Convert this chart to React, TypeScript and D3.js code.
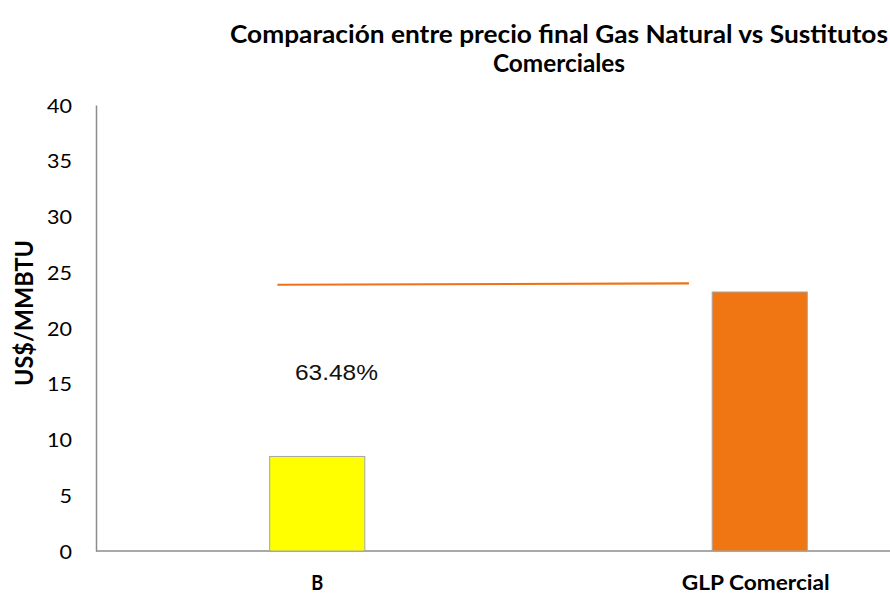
import React, { useEffect, useRef } from "react";
import * as d3 from "d3";

// Categories and bar values (US$/MMBTU)
const categories = ["B", "GLP Comercial"];
const prices = [8.48, 23.23];
const barColors = ["#FFFF00", "#F07513"];

// Reference line drawn across the plot (x in category index units)
const refLineX = [-0.09, 0.84];
const refLineY = [23.88, 24.0];

const yTicks = [0, 5, 10, 15, 20, 25, 30, 35, 40];
const titleLines = [
  "Comparación entre precio final Gas Natural vs Sustitutos",
  "Comerciales",
];
const yLabel = "US$/MMBTU";
const pctLabel = "63.48%";

const App: React.FC = () => {
  const svgRef = useRef<SVGSVGElement | null>(null);

  useEffect(() => {
    const width = 890;
    const height = 595;
    const margin = { top: 105, left: 96, bottom: 44 };
    const plotRight = 981; // plot area runs past the cropped edge

    const svg = d3
      .select(svgRef.current)
      .attr("width", width)
      .attr("height", height);
    svg.selectAll("*").remove();

    const xScale = d3
      .scaleBand<string>()
      .domain(categories)
      .range([margin.left, plotRight])
      .paddingInner(0.785)
      .paddingOuter(0.3925);

    const yScale = d3
      .scaleLinear()
      .domain([0, 40])
      .range([height - margin.bottom, margin.top]);

    // index scale for the reference line, centred on the bands
    const xIdx = d3
      .scaleLinear()
      .domain([0, 1])
      .range([
        xScale(categories[0])! + xScale.bandwidth() / 2,
        xScale(categories[1])! + xScale.bandwidth() / 2,
      ]);

    // Title
    const title = svg
      .append("g")
      .attr("font-family", "Lato, 'Open Sans', sans-serif")
      .attr("font-weight", "bold")
      .attr("font-size", 24)
      .attr("fill", "#000");
    title
      .append("text")
      .attr("x", 559)
      .attr("y", 43)
      .attr("text-anchor", "middle")
      .attr("textLength", 658)
      .attr("lengthAdjust", "spacingAndGlyphs")
      .text(titleLines[0]);
    title
      .append("text")
      .attr("x", 559)
      .attr("y", 72)
      .attr("text-anchor", "middle")
      .attr("textLength", 132)
      .attr("lengthAdjust", "spacingAndGlyphs")
      .text(titleLines[1]);

    // Y axis
    const yAxis = d3
      .axisLeft(yScale)
      .tickValues(yTicks)
      .tickSize(0)
      .tickPadding(24);
    const yAxisG = svg
      .append("g")
      .attr("transform", `translate(${margin.left},0)`)
      .call(yAxis);
    yAxisG.select(".domain").attr("stroke", "#8c8c8c").attr("stroke-width", 1.5);
    yAxisG
      .selectAll("text")
      .attr("font-family", "Lato, 'Open Sans', sans-serif")
      .attr("font-size", 20)
      .attr("fill", "#000")
      .attr("dy", "0.36em")
      .attr("textLength", (d: any) => String(d).length * 12.5)
      .attr("lengthAdjust", "spacingAndGlyphs");

    // X axis baseline
    svg
      .append("line")
      .attr("x1", margin.left)
      .attr("x2", plotRight)
      .attr("y1", yScale(0))
      .attr("y2", yScale(0))
      .attr("stroke", "#8c8c8c")
      .attr("stroke-width", 1.5);

    // Bars
    svg
      .append("g")
      .selectAll("rect")
      .data(categories)
      .join("rect")
      .attr("x", (d) => xScale(d)!)
      .attr("y", (_, i) => yScale(prices[i]))
      .attr("width", xScale.bandwidth())
      .attr("height", (_, i) => yScale(0) - yScale(prices[i]))
      .attr("fill", (_, i) => barColors[i])
      .attr("stroke", "#a6a6a6")
      .attr("stroke-width", 1);

    // Category labels
    svg
      .append("g")
      .selectAll("text")
      .data(categories)
      .join("text")
      .attr("x", (d) => xScale(d)! + xScale.bandwidth() / 2 - (d === "B" ? 0 : 4))
      .attr("y", 590)
      .attr("text-anchor", "middle")
      .attr("font-family", "Lato, 'Open Sans', sans-serif")
      .attr("font-weight", "bold")
      .attr("font-size", 21)
      .attr("textLength", (d) => (d === "B" ? 12 : 148))
      .attr("lengthAdjust", "spacingAndGlyphs")
      .text((d) => d);

    // Reference line
    const line = d3
      .line<number>()
      .x((_, i) => xIdx(refLineX[i]))
      .y((d) => yScale(d));
    svg
      .append("path")
      .datum(refLineY)
      .attr("fill", "none")
      .attr("stroke", "#EE7214")
      .attr("stroke-width", 2.2)
      .attr("d", line);

    // Percentage label
    svg
      .append("text")
      .attr("x", 295)
      .attr("y", 380)
      .attr("font-family", "'Liberation Sans', Arial, sans-serif")
      .attr("font-size", 22)
      .attr("fill", "#111")
      .attr("textLength", 83)
      .attr("lengthAdjust", "spacingAndGlyphs")
      .text(pctLabel);

    // Y axis title
    svg
      .append("text")
      .attr("transform", `translate(33,313) rotate(-90)`)
      .attr("text-anchor", "middle")
      .attr("font-family", "Lato, 'Open Sans', sans-serif")
      .attr("font-weight", "bold")
      .attr("font-size", 25)
      .attr("textLength", 146)
      .attr("lengthAdjust", "spacingAndGlyphs")
      .text(yLabel);
  }, []);

  return (
    <svg
      ref={svgRef}
      style={{ position: "absolute", left: 0, top: 0, background: "#fff" }}
    ></svg>
  );
};

export default App;
